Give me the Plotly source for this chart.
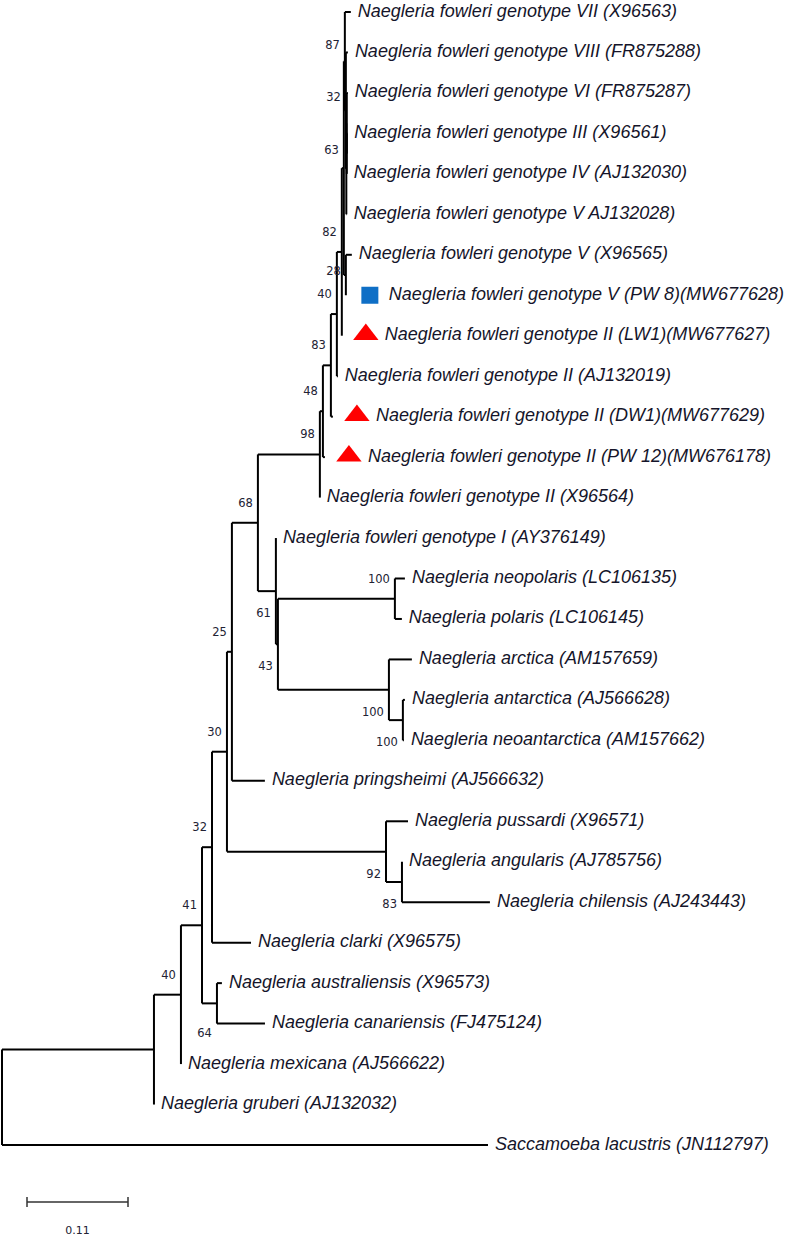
import plotly.graph_objects as go

# ---------------- data ----------------
# leaves in drawing order (top -> bottom)
leaf_ids = ["VII", "VIII", "VI", "III", "IV", "V28", "V65", "PW8", "LW1", "AJ019",
            "DW1", "PW12", "X564", "AY", "neopol", "polaris", "arctica", "antarc",
            "neoant", "pring", "pussardi", "angularis", "chilensis", "clarki",
            "austral", "canar", "mexicana", "gruberi", "sacc"]
leaf_labels = [
    "Naegleria fowleri genotype VII (X96563)",
    "Naegleria fowleri genotype VIII (FR875288)",
    "Naegleria fowleri genotype VI (FR875287)",
    "Naegleria fowleri genotype III (X96561)",
    "Naegleria fowleri genotype IV (AJ132030)",
    "Naegleria fowleri genotype V AJ132028)",
    "Naegleria fowleri genotype V (X96565)",
    "Naegleria fowleri genotype V (PW 8)(MW677628)",
    "Naegleria fowleri genotype II (LW1)(MW677627)",
    "Naegleria fowleri genotype II (AJ132019)",
    "Naegleria fowleri genotype II (DW1)(MW677629)",
    "Naegleria fowleri genotype II (PW 12)(MW676178)",
    "Naegleria fowleri genotype II (X96564)",
    "Naegleria fowleri genotype I (AY376149)",
    "Naegleria neopolaris (LC106135)",
    "Naegleria polaris (LC106145)",
    "Naegleria arctica (AM157659)",
    "Naegleria antarctica (AJ566628)",
    "Naegleria neoantarctica (AM157662)",
    "Naegleria pringsheimi (AJ566632)",
    "Naegleria pussardi (X96571)",
    "Naegleria angularis (AJ785756)",
    "Naegleria chilensis (AJ243443)",
    "Naegleria clarki (X96575)",
    "Naegleria australiensis (X96573)",
    "Naegleria canariensis (FJ475124)",
    "Naegleria mexicana (AJ566622)",
    "Naegleria gruberi (AJ132032)",
    "Saccamoeba lacustris (JN112797)",
]

# tree topology: internal node -> children (top to bottom)
tree_children = {
    "root": ["A", "sacc"],
    "A": ["B", "gruberi"],
    "B": ["C", "mexicana"],
    "C": ["D", "E"],
    "E": ["austral", "canar"],
    "D": ["F", "clarki"],
    "F": ["G", "Npus"],
    "Npus": ["pussardi", "O"],
    "O": ["angularis", "chilensis"],
    "G": ["H", "pring"],
    "H": ["P", "I"],
    "I": ["AY", "J"],
    "J": ["K", "L"],
    "K": ["neopol", "polaris"],
    "L": ["arctica", "M"],
    "M": ["antarc", "neoant"],
    "P": ["N48", "X564"],
    "N48": ["N83", "PW12"],
    "N83": ["N40", "DW1"],
    "N40": ["N82", "AJ019"],
    "N82": ["N63", "LW1"],
    "N63": ["N87", "N28"],
    "N28": ["V65", "PW8"],
    "N87": ["VII", "N32"],
    "N32": ["VIII", "b"],
    "b": ["c", "V28"],
    "c": ["VI", "d"],
    "d": ["III", "IV"],
}

# branch lengths (substitutions per site) of the branch leading to each node
branch_nodes = ["sacc", "A", "gruberi", "B", "mexicana", "C", "E", "austral", "canar",
                "D", "clarki", "F", "Npus", "pussardi", "O", "angularis", "chilensis",
                "G", "pring", "H", "P", "I", "AY", "J", "K", "neopol", "polaris",
                "L", "arctica", "M", "antarc", "neoant", "X564", "N48", "PW12",
                "N83", "DW1", "N40", "AJ019", "N82", "LW1", "N63", "N87", "VII",
                "N32", "VIII", "b", "c", "VI", "d", "III", "IV", "V28", "N28",
                "V65", "PW8"]
branch_values = [0.5293, 0.1655, 0.0, 0.0294, 0.0, 0.0229, 0.0163, 0.0054, 0.0523,
                 0.0109, 0.0425, 0.0163, 0.1732, 0.0240, 0.0174, 0.0, 0.0958,
                 0.0054, 0.0359, 0.0283, 0.0675, 0.0196, 0.0, 0.0022, 0.1274, 0.0109, 0.0076,
                 0.1209, 0.0250, 0.0152, 0.0022, 0.0011, 0.0, 0.0033, 0.0022,
                 0.0087, 0.0022, 0.0065, 0.0011, 0.0054, 0.0, 0.0022, 0.0011, 0.0065,
                 0.0011, 0.0022, 0.0005, 0.0005, 0.0011, 0.0, 0.0005, 0.0, 0.0005, 0.0022,
                 0.0065, 0.0]

# bootstrap support values
boot_nodes = ["H", "G", "F", "D", "C", "B", "K", "P", "N48", "N83", "N40", "N82",
              "N63", "N28", "N87", "N32", "E", "I", "J", "L", "M", "Npus", "O"]
boot_values = [68, 25, 30, 32, 41, 40, 100, 98, 48, 83, 40, 82,
               63, 28, 87, 32, 64, 61, 43, 100, 100, 92, 83]

# highlighted isolates
blue_square_leaves = ["PW8"]
red_triangle_leaves = ["LW1", "DW1", "PW12"]

scale_bar_value = 0.11

# ---------------- layout helpers ----------------
W, H = 789, 1239
PX = 0.11 / 101.0          # substitutions per pixel
ROW = (1145 - 12) / 28.0   # pixels per leaf row
below_labels = {"E", "I", "J", "L", "M", "Npus", "O"}
label_dy = {"N63": 2, "N28": 16, "N87": 4, "N32": 6, "E": 8}

bl = dict(zip(branch_nodes, branch_values))

xpos, ypos = {"root": 0.0}, {}
for i, lf in enumerate(leaf_ids):
    ypos[lf] = float(i)


def place_x(n):
    for c in tree_children.get(n, []):
        xpos[c] = xpos[n] + bl[c]
        place_x(c)


def place_y(n):
    if n in ypos:
        return ypos[n]
    cs = tree_children[n]
    ys = [place_y(c) for c in cs]
    ypos[n] = (ys[0] + ys[-1]) / 2.0
    return ypos[n]


place_x("root")
place_y("root")

lx, ly = [], []
for n, cs in tree_children.items():
    lx += [xpos[n], xpos[n], None]
    ly += [ypos[cs[0]], ypos[cs[-1]], None]
    for c in cs:
        lx += [xpos[n], xpos[c], None]
        ly += [ypos[c], ypos[c], None]

fig = go.Figure()
fig.add_trace(go.Scatter(x=lx, y=ly, mode="lines", line=dict(color="black", width=2),
                         hoverinfo="skip", showlegend=False))

marked = set(blue_square_leaves) | set(red_triangle_leaves)
tx, ty, tt = [], [], []
for lf, lab in zip(leaf_ids, leaf_labels):
    off = 43 if lf in marked else 7
    tx.append(xpos[lf] + off * PX)
    ty.append(ypos[lf])
    tt.append("<i>" + lab + "</i>")
fig.add_trace(go.Scatter(x=tx, y=ty, text=tt, mode="text", textposition="middle right",
                         textfont=dict(family="Liberation Sans", size=18, color="#15152a"),
                         cliponaxis=False, hoverinfo="skip", showlegend=False))

fig.add_trace(go.Scatter(
    x=[xpos[l] + 24 * PX for l in blue_square_leaves],
    y=[ypos[l] for l in blue_square_leaves], mode="markers",
    marker=dict(symbol="square", size=17, color="#0F6FC6"),
    hoverinfo="skip", showlegend=False))
fig.add_trace(go.Scatter(
    x=[xpos[l] + 24 * PX for l in red_triangle_leaves],
    y=[ypos[l] - 0.03 for l in red_triangle_leaves], mode="markers",
    marker=dict(symbol="triangle-up", size=22, color="#FF0000"),
    hoverinfo="skip", showlegend=False))

bx, by, bt = [], [], []
for n, v in zip(boot_nodes, boot_values):
    dy = 23 if n in below_labels else -19
    dy += label_dy.get(n, 0)
    bx.append(xpos[n] - 5 * PX)
    by.append(ypos[n] + dy / ROW)
    bt.append(str(v))
fig.add_trace(go.Scatter(x=bx, y=by, text=bt, mode="text", textposition="middle left",
                         textfont=dict(family="DejaVu Sans", size=11.5, color="#222233"),
                         hoverinfo="skip", showlegend=False))

# scale bar
sb_x0 = 25 * PX
sb_y = (1202 - 12) / ROW
tick = 5 / ROW
fig.add_trace(go.Scatter(
    x=[sb_x0, sb_x0 + scale_bar_value, None, sb_x0, sb_x0, None,
       sb_x0 + scale_bar_value, sb_x0 + scale_bar_value],
    y=[sb_y, sb_y, None, sb_y - tick, sb_y + tick, None, sb_y - tick, sb_y + tick],
    mode="lines", line=dict(color="#333333", width=1.5), hoverinfo="skip", showlegend=False))
fig.add_trace(go.Scatter(x=[sb_x0 + scale_bar_value / 2], y=[sb_y + 29 / ROW],
                         text=[f"{scale_bar_value:.2f}"], mode="text", textposition="middle center",
                         textfont=dict(family="DejaVu Sans", size=11, color="#222233"),
                         cliponaxis=False, hoverinfo="skip", showlegend=False))

fig.update_layout(
    width=W, height=H, margin=dict(l=0, r=0, t=0, b=0),
    paper_bgcolor="white", plot_bgcolor="white",
    xaxis=dict(range=[-2 * PX, (W - 2) * PX], visible=False, fixedrange=True),
    yaxis=dict(range=[(H - 12) / ROW, -12 / ROW], visible=False, fixedrange=True),
)
fig.write_html("out.html", config={"displayModeBar": False},
               post_script="document.body.style.margin='0px';document.body.style.overflow='hidden';")
